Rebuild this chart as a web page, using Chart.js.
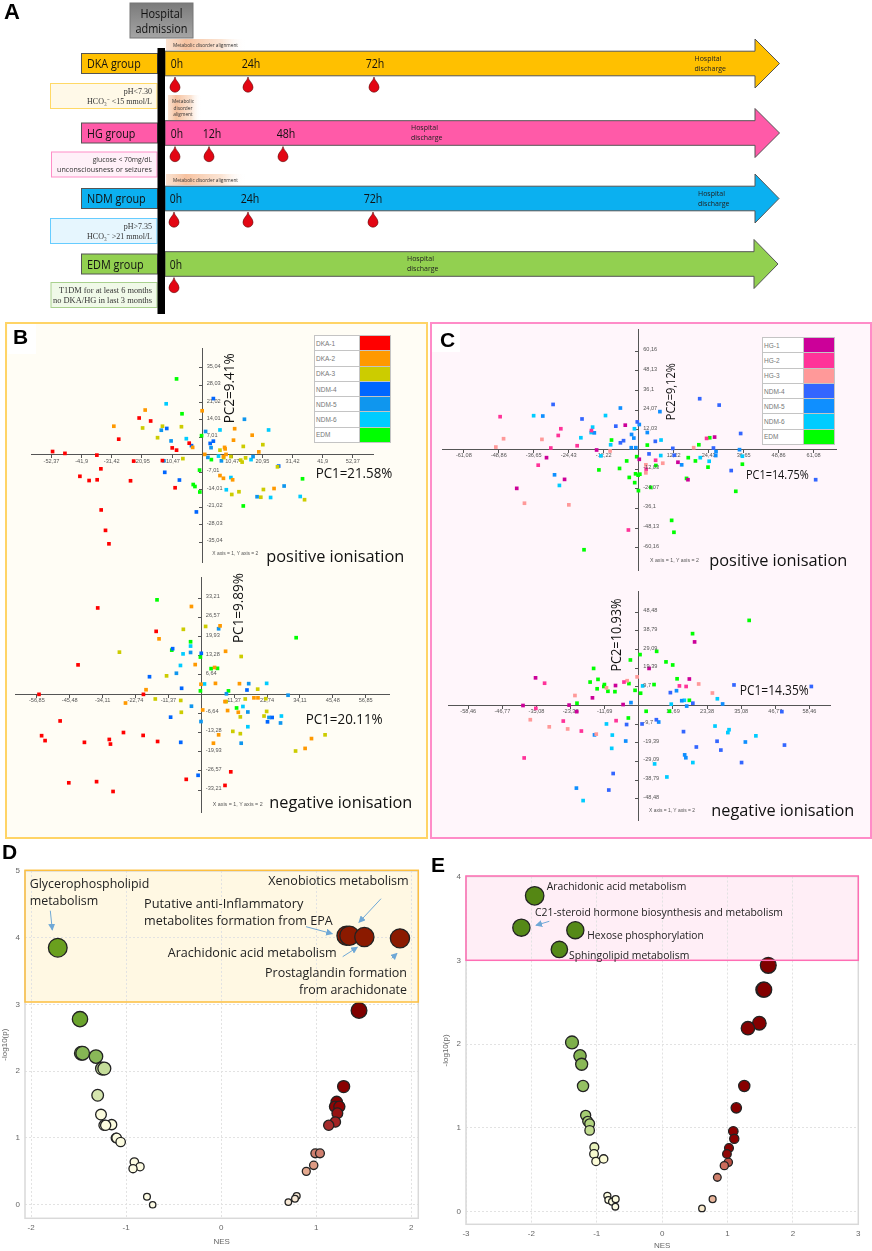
<!DOCTYPE html>
<html>
<head>
<meta charset="utf-8">
<title>Hospital groups, PCA and enrichment</title>
<script src="https://cdn.jsdelivr.net/npm/chart.js@4"></script>
<style>
  html, body { margin: 0; background: #fff; }
  #page { position: relative; width: 872px; height: 1251px; overflow: hidden; }
  #page canvas { position: absolute; }
  .panel, .hl, .letterbg { position: absolute; box-sizing: border-box; }
  #overlay { position: absolute; left: 0; top: 0; pointer-events: none; }
  table.key { position: absolute; border-collapse: collapse; font: 6.5px "Liberation Sans", sans-serif; color: #777; background: #fff; }
  table.key td { border: 1px solid #c4c4c4; padding: 0 0 0 1px; height: 14.3px; }
  table.key td.sw { width: 30px; padding: 0; }
</style>
</head>
<body>
<div id="page">
  <div class="panel" style="left:5px;top:322px;width:423px;height:517px;background:#fffdf5;border:2px solid #ffd466"></div>
  <div class="panel" style="left:430px;top:322px;width:442px;height:517px;background:#fff6fb;border:2px solid #ff8cc8"></div>
  <div class="letterbg" style="left:8px;top:324px;width:28px;height:30px;background:#fff"></div>
  <div class="letterbg" style="left:432px;top:324px;width:28px;height:28px;background:#fff"></div>
  <div class="hl" style="left:25px;top:870px;width:394px;height:132px;background:#fff8e3"></div>
  <div class="hl" style="left:466px;top:876px;width:393px;height:85px;background:#ffeef6"></div>

  <canvas id="bPos" width="350" height="222" style="left:27px;top:344px"></canvas>
  <canvas id="bNeg" width="382" height="243" style="left:11px;top:573px"></canvas>
  <canvas id="cPos" width="402" height="249" style="left:438px;top:325px"></canvas>
  <canvas id="cNeg" width="390" height="237" style="left:444px;top:587px"></canvas>
  <canvas id="dChart" width="430" height="387" style="left:0;top:860px"></canvas>
  <canvas id="eChart" width="431" height="385" style="left:441px;top:866px"></canvas>

  <table class="key" id="keyB" style="left:314px;top:335px;width:77px"></table>
  <table class="key" id="keyC" style="left:762px;top:337px;width:73px"></table>

  <svg id="overlay" width="872" height="1251" xmlns="http://www.w3.org/2000/svg"></svg>
</div>

<script>
// panel B, positive ionisation
const bPosDka1 = [[-52,1.35],[-47.7,0.6],[-36.6,-0.1],[-23.8,-2.5],[-13.8,-2.3],[-10.4,2.8],[-8.9,1.9],[-4.5,4.7],[-21.9,14.8],[-17.9,13.6],[-29,6.3],[-35.2,-5.6],[-42.5,-8.6],[-39.3,-10.3],[-36.5,-10],[-24.9,-10.4],[-9.4,-13.2],[-35.1,-22.1],[-33.6,-30.3],[-32.4,-35.7]];
const bPosDka2 = [[-19.8,18],[-30.7,11.5],[0,17.7],[11.3,10.5],[17.4,7.9],[10.9,5.9],[7.8,3],[8,2.4],[-3.3,3],[19.7,1.2],[8.3,0.2],[0.9,0.2],[6.2,-8.3],[7.4,-9.4],[10.6,-10],[25,-13.5],[7.4,-0.7]];
const bPosDka3 = [[-13.8,11.5],[-20.7,10.8],[-7.2,11.3],[-15.5,6.9],[6.2,1.9],[10,-0.7],[14.3,3.4],[21.1,4.1],[-6.7,-1.5],[7.5,-1.1],[13.4,-2.1],[13.9,-2.9],[15.1,-1.2],[26.2,-4.8],[21.3,-13.9],[12.8,-14.8],[10.3,-15.9],[20.4,-17],[35.6,-18]];
const bPosNdm4 = [[3.9,22.6],[-12.3,10.6],[3.9,5.5],[2.8,4.6],[-3.7,3.7],[-13,-7],[-7.9,-10.1],[26.6,-4.5],[-2,-22.9]];
const bPosNdm5 = [[14.7,14.3],[1.2,9.4],[-10.8,5.6],[3.1,2.9],[2,-1],[6.7,-2.4],[17.7,-0.7],[-14.2,9.9],[28.5,-12.5],[19.1,-16.8],[-13.3,-2.4]];
const bPosNdm6 = [[-12.5,20.5],[6.2,10],[23.1,10],[-5.5,6.5],[5.7,-0.5],[17,-1.9],[10,-9.1],[8.4,-14],[23.8,-17.1],[34.1,-16.7]];
const bPosEdm = [[-8.9,30.5],[-7,16.5],[-0.2,7.7],[3.2,-1.9],[-0.9,-6.1],[-3.1,-11.9],[-2.5,-12.7],[-0.8,-14.9],[34.9,-9.6],[14.3,-20.5]];
const bPosTicksX = [-52.37,-41.9,-31.42,-20.95,-10.47,10.47,20.95,31.42,41.9,52.37];
const bPosTicksY = [35.04,28.03,21.02,14.01,7.01,-7.01,-14.01,-21.02,-28.03,-35.04];

// panel B, negative ionisation
const bNegDka1 = [[-35.8,29.8],[-15.6,21.7],[-42.6,10.1],[-56.1,-0.1],[-20,-0.1],[-48.8,-9.3],[-55.2,-14.4],[-54,-16.1],[-40.4,-16.7],[-31.8,-15.7],[-31.4,-17.3],[-26.9,-13.3],[-20.1,-14.3],[-15.1,-16.4],[-45.8,-30.7],[-36.2,-30.3],[-30.5,-33.7],[-5.2,-29.5],[8.2,-31.6],[10.2,-26.9]];
const bNegDka2 = [[-3.4,30.3],[6.5,23.6],[-14.6,19.1],[8.4,14.8],[-2.1,10.2],[4.6,9.2],[-0.1,3.4],[4.9,3.7],[13.2,3.6],[-19.1,1.5],[-26.2,-3.1],[0.5,-5.5],[9.1,-5.7],[12.8,-6.3],[6,-14.1],[4.2,-17],[18.2,-1.3],[19.6,-1.3],[8.2,-2.6],[38.1,-15.4],[35.9,-18.8]];
const bNegDka3 = [[1.5,23.4],[-6.2,22.4],[-28.3,14.5],[13.8,13],[-12,6.3],[19.5,1.7],[-15.9,-1.7],[-7.1,-2.2],[15.2,-1.7],[22.3,-1.6],[8.6,-2.6],[-6.9,-6.3],[22.6,-6],[21.7,-7.6],[13.5,-7.9],[10.9,-12.9],[13.5,-13.7],[32.6,-19.7],[42.8,-14.1]];
const bNegNdm4 = [[-9.9,15.7],[0,14.1],[-17.9,6],[-6.8,2],[15.8,1.4],[-10.6,-8],[22.9,-9.6],[24.5,-8.1],[-7.1,-16.7],[-1.1,-28.1]];
const bNegNdm5 = [[6,22.6],[-3.7,14.4],[-8.6,7.2],[16.4,3.6],[8.7,0.1],[-3.4,-4.2],[16.1,-6.2],[-0.1,-9.5],[23.4,-8.1],[27.4,-10],[13.8,-17],[30,-0.4]];
const bNegNdm6 = [[-3.7,16.6],[-6.3,13.9],[-7.2,9.9],[1.1,3.5],[22.6,3.7],[14.4,-4.3],[27.7,-7.6],[16.1,-11.3]];
const bNegEdm = [[-15.3,32.6],[-3.7,18.1],[-10.2,15.2],[-0.3,12.8],[3.4,8.8],[5.6,8.9],[-0.3,1.1],[9.4,1.1],[12.2,-4.8],[32.8,19.5]];
const bNegTicksX = [-56.85,-45.48,-34.11,-22.74,-11.37,11.37,22.74,34.11,45.48,56.85];
const bNegTicksY = [33.21,26.57,19.93,13.28,6.64,-6.64,-13.28,-19.93,-26.57,-33.21];

// panel C, positive ionisation
const cPosHg1 = [[-4.7,14.9],[26.5,7.6],[-14.7,-0.3],[-32.2,-5],[0.2,-6],[-25.9,-18.3],[-42.6,-23.8],[13.7,-7.8],[17.2,-18.5]];
const cPosHg2 = [[-48.4,20.1],[-27.2,12.7],[-28.1,8.6],[-21.5,2.3],[-30.7,0.9],[-16.5,11.6],[-35.1,-9.6],[23.7,6.8],[2.6,-12],[5.9,-6.6],[-3.6,-49.3]];
const cPosHg3 = [[-47.2,6.6],[-49.9,1.5],[-33.8,6.2],[-10,-0.9],[19.2,1.1],[8.4,-8.4],[2.5,-9.4],[2.5,-14.3],[-39.9,-32.9],[-24.4,-33.9]];
const cPosNdm4 = [[-29.9,27.6],[-19.8,18.7],[-8,14.3],[-0.5,16.9],[21.3,31.1],[28.1,27.2],[35.6,9.8],[5.8,5],[-5.3,5.4],[-6.4,4.1],[11.9,0.7],[12.4,-3.5],[3.6,-2.7],[26.1,0.9],[32.3,-12.9],[61.8,-18.5]];
const cPosNdm5 = [[-33.5,20.5],[-6.4,25.4],[7.4,23.2],[0.2,15.3],[3,10.4],[-2.5,9.2],[-1.7,7],[-2.6,1.1],[-1,1.1],[-15.5,10.2],[15,-9.4],[27,-1.3],[26.9,-3.7],[35.2,-0.1],[-29.4,-15.5]];
const cPosNdm6 = [[-36.7,20.7],[-11.6,20.8],[-16.1,13.7],[-16.6,10.4],[-1.5,12.7],[-20.2,7.2],[-9.8,2.9],[7.8,5.8],[-13.2,-3.9],[7.7,-3.7],[21.5,-5],[24.6,-7.2],[36.2,-4.1],[-27.7,-22]];
const cPosEdm = [[-9.5,5.8],[3,2.7],[21,2.9],[24.8,7.2],[-0.7,-4.4],[-4.2,-7],[17.3,-5],[19.8,-7],[24.2,-10.8],[36.2,-9],[-13.9,-12.5],[-6.7,-11.6],[6,-9.8],[-1.1,-14.9],[0.4,-15.1],[-0.2,-15.7],[-3.3,-17.1],[-1.4,-20.3],[4.2,-23.2],[-0.1,-25.2],[16.7,-17.7],[33.9,-25.6],[11.5,-43.4],[12.3,-50.7],[-19.1,-61.4]];
const cPosTicksX = [-61.08,-48.86,-36.65,-24.43,-12.22,12.22,24.43,36.65,48.86,61.08];
const cPosTicksY = [60.16,48.13,36.1,24.07,12.03,-12.03,-24.07,-36.1,-48.13,-60.16];

// panel C, negative ionisation
const cNegHg1 = [[-35.4,14.4],[-8,10.4],[3.5,19.3],[19.1,33.1],[17.3,13.8],[-15.9,4],[-39.7,0],[-23.9,0.2],[-5.4,0.5],[-21.3,-3.2]];
const cNegHg2 = [[-32.3,11.6],[-5.1,12.2],[13.9,10.2],[16.2,9.9],[-35.3,-1.5],[-25.9,-8.1],[-19.7,-13.3],[-7.8,-7.9],[-39.3,-27.3]];
const cNegHg3 = [[-0.6,14.9],[-4,12.9],[-11.1,9.2],[-21.9,5.2],[20.5,11.2],[25.2,6.5],[-37.2,-7.4],[-30.7,-11.1],[-24.4,-12.2],[-14.6,-14.9]];
const cNegNdm4 = [[32.6,10.7],[10.8,6.7],[59.1,9.9],[18.5,1.2],[6,-7.4],[1.1,-9.6],[-4.2,-9.9],[15.3,-13.6],[19.7,-21.6],[26.8,-18.6],[28.1,-23.2],[35.2,-29.7],[49,-3.2],[49.9,-20.6],[-8.8,-35.4],[-10.3,-44]];
const cNegNdm5 = [[12.9,7.7],[14.7,2.5],[16.4,-0.3],[-2.7,1.5],[28.7,0.8],[6.8,-8.6],[-15.2,-15.3],[-4.5,-18.5],[15.7,-25.7],[16.1,-27.2],[36.5,-19],[-21.4,-43]];
const cNegNdm6 = [[1.3,10.2],[11.1,0.7],[15.6,2.7],[26.9,3.5],[-11.1,-9.6],[-9.1,-15.4],[-9.3,-22.3],[26.1,-10.7],[30.9,-12.6],[30.5,-14.1],[40.1,-15.8],[18.5,-29.7],[5.4,-30.4],[9.6,-37.2],[-19.1,-49.5]];
const cNegEdm = [[37.8,44.3],[18.4,37.4],[6.1,28.2],[0.4,26.5],[-2.9,23.7],[9.3,22.7],[11.6,21.1],[-15.5,19.3],[13.1,13.9],[-16.7,12.2],[-14,13.6],[5.2,10.9],[-3.4,11.4],[-11.8,10.9],[-12,9.9],[-14.3,8.7],[-10.6,7.4],[-8.2,7.2],[-1.3,7.9],[0.6,6.4],[17.3,2.7],[-21.2,1.2],[2.5,-3],[10.5,-3],[-3.6,-6.5]];
const cNegTicksX = [-58.46,-46.77,-35.08,-23.38,-11.69,11.69,23.38,35.08,46.77,58.46];
const cNegTicksY = [48.48,38.79,29.09,19.39,9.7,-9.7,-19.39,-29.09,-38.79,-48.48];

// panel D, NES against -log10(p)
const dDown = [[-1.72,3.85],[-1.486,2.78],[-1.472,2.27],[-1.458,2.27],[-1.318,2.22],[-1.254,2.04],[-1.23,2.04],[-1.3,1.64],[-1.265,1.35],[-1.233,1.19],[-1.153,1.2],[-1.216,1.19],[-1.107,1],[-1.1,1],[-1.058,0.94],[-0.914,0.64],[-0.854,0.57],[-0.928,0.54],[-0.781,0.12],[-0.721,0]];
const dUp = [[1.32,4.03],[1.35,4.03],[1.507,4.01],[1.882,3.99],[1.451,2.91],[1.289,1.77],[1.216,1.54],[1.198,1.47],[1.244,1.47],[1.223,1.37],[1.202,1.24],[1.132,1.19],[0.991,0.77],[1.04,0.77],[0.974,0.59],[0.896,0.5],[0.795,0.13],[0.777,0.09],[0.707,0.04]];
const dTicksX = [-2,-1,0,1,2];
const dTicksY = [0,1,2,3,4,5];

// panel E, NES against -log10(p)
const eDown = [[-1.95,3.77],[-2.153,3.39],[-1.328,3.36],[-1.572,3.13],[-1.379,2.02],[-1.256,1.86],[-1.231,1.76],[-1.21,1.5],[-1.17,1.15],[-1.139,1.08],[-1.109,1.05],[-1.109,0.97],[-1.037,0.77],[-1.042,0.69],[-1.012,0.6],[-0.895,0.63],[-0.838,0.19],[-0.823,0.14],[-0.767,0.12],[-0.711,0.15],[-0.716,0.06]];
const eUp = [[1.623,2.94],[1.547,2.65],[1.562,2.65],[1.486,2.25],[1.312,2.19],[1.256,1.5],[1.134,1.24],[1.088,0.96],[1.103,0.87],[1.022,0.76],[1.012,0.59],[0.991,0.69],[0.951,0.55],[0.844,0.41],[0.772,0.15],[0.609,0.04]];
const eTicksX = [-3,-2,-1,0,1,2,3];
const eTicksY = [0,1,2,3,4];

const keyNamesB = ['DKA-1','DKA-2','DKA-3','NDM-4','NDM-5','NDM-6','EDM'];
const keyColorsB = ['#ff0000','#ff9900','#cccc00','#0066ff','#0f96ee','#00ccff','#00ff00'];
const keyNamesC = ['HG-1','HG-2','HG-3','NDM-4','NDM-5','NDM-6','EDM'];
const keyColorsC = ['#cc0099','#ff3399','#ff9999','#3366ff','#0f8fff','#00ccff','#00ff00'];

Chart.defaults.font.family = '"Liberation Sans", Arial, sans-serif';
Chart.defaults.animation = false;
Chart.defaults.responsive = false;
Chart.defaults.plugins.legend.display = false;
Chart.defaults.plugins.tooltip.enabled = false;

const comma = v => String(v).replace('.', ',');
const toXY = p => ({ x: p[0], y: p[1] });

// y labels sit to the right of the axis, chart.js can't mirror them at a centred position
const yLabelsRight = {
  id: 'yLabelsRight',
  afterDraw(chart) {
    const s = chart.scales.y, ctx = chart.ctx, x0 = chart.scales.x.getPixelForValue(0);
    ctx.save();
    ctx.font = '5.6px "Liberation Sans"';
    ctx.fillStyle = '#555';
    ctx.textBaseline = 'middle';
    s.ticks.forEach(t => ctx.fillText(comma(t.value), x0 + 4.5, s.getPixelForValue(t.value) - 1.5));
    ctx.restore();
  }
};

function pcaChart(id, groups, colors, ticksX, ticksY, xr, yr) {
  new Chart(document.getElementById(id), {
    type: 'scatter',
    data: {
      datasets: groups.map((g, i) => ({
        data: g.map(toXY),
        pointStyle: 'rect',
        pointRadius: 2.6,
        pointBorderWidth: 0,
        pointBackgroundColor: colors[i]
      }))
    },
    options: {
      layout: { padding: 0 },
      scales: {
        x: {
          type: 'linear', min: xr[0], max: xr[1], position: { y: 0 },
          afterBuildTicks: a => { a.ticks = ticksX.map(v => ({ value: v })); },
          border: { color: '#555', width: 1 },
          grid: { drawOnChartArea: false, tickLength: 3, color: '#555' },
          ticks: { autoSkip: false, maxRotation: 0, padding: 0, color: '#555', font: { size: 5.6 }, callback: v => comma(v) }
        },
        y: {
          type: 'linear', min: yr[0], max: yr[1], position: { x: 0 },
          afterBuildTicks: a => { a.ticks = ticksY.map(v => ({ value: v })); },
          border: { color: '#555', width: 1 },
          grid: { drawOnChartArea: false, tickLength: 3, color: '#555' },
          ticks: { display: false }
        }
      }
    },
    plugins: [yLabelsRight]
  });
}

pcaChart('bPos', [bPosDka1,bPosDka2,bPosDka3,bPosNdm4,bPosNdm5,bPosNdm6,bPosEdm], keyColorsB, bPosTicksX, bPosTicksY, [-59.5,59.4], [-43,42.9]);
pcaChart('bNeg', [bNegDka1,bNegDka2,bNegDka3,bNegNdm4,bNegNdm5,bNegNdm6,bNegEdm], keyColorsB, bNegTicksX, bNegTicksY, [-64.4,64.9], [-40.8,40.5]);
pcaChart('cPos', [cPosHg1,cPosHg2,cPosHg3,cPosNdm4,cPosNdm5,cPosNdm6,cPosEdm], keyColorsC, cPosTicksX, cPosTicksY, [-68.7,68.9], [-73.8,73.8]);
pcaChart('cNeg', [cNegHg1,cNegHg2,cNegHg3,cNegNdm4,cNegNdm5,cNegNdm6,cNegEdm], keyColorsC, cNegTicksX, cNegTicksY, [-65.4,65.5], [-59.6,59.6]);

// colour ramps by -log10(p)
function ramp(stops, y) {
  let i = 1;
  while (i < stops.length - 1 && y > stops[i][0]) i++;
  const a = stops[i - 1], b = stops[i];
  const t = Math.max(0, Math.min(1, (y - a[0]) / (b[0] - a[0])));
  const c = [1, 2, 3].map(k => Math.round(a[k] + (b[k] - a[k]) * t));
  return `rgb(${c})`;
}
const dDownRamp = [[0,253,252,230],[1.35,252,252,222],[1.64,213,229,174],[2.04,196,220,153],[2.2,138,185,90],[2.78,106,163,44],[3.85,106,160,30]];
const dUpRamp = [[0,247,232,213],[0.15,247,232,213],[0.5,228,169,143],[0.78,207,125,110],[1.2,165,42,42],[1.5,139,0,0],[2.9,128,0,0],[4,139,26,0]];
const eDownRamp = [[0,253,253,228],[0.65,252,252,215],[0.8,226,238,180],[1.1,167,207,116],[2,127,176,76],[3,85,139,26],[3.8,85,135,20]];
const eUpRamp = [[0,253,253,224],[0.15,232,181,155],[0.41,207,127,108],[0.55,205,108,92],[0.7,139,0,0],[3,128,0,0]];

const frame = {
  id: 'frame',
  beforeDatasetsDraw(chart) {
    const a = chart.chartArea, ctx = chart.ctx;
    ctx.save();
    ctx.strokeStyle = '#d9d9d9';
    ctx.lineWidth = 1.5;
    ctx.strokeRect(a.left, a.top, a.right - a.left, a.bottom - a.top);
    ctx.restore();
  }
};

function enrichChart(id, down, up, downRamp, upRamp, ticksX, ticksY, xr, yr, pad, yWidth, xHeight) {
  const ds = (pts, stops) => ({
    data: pts.map(toXY),
    pointRadius: c => 3.2 + 1.6 * c.raw.y,
    pointBackgroundColor: c => ramp(stops, c.raw.y),
    pointBorderColor: '#222',
    pointBorderWidth: 1.3
  });
  const axis = (txt, ticks, lim, fit) => ({
    type: 'linear', min: lim[0], max: lim[1],
    afterBuildTicks: a => { a.ticks = ticks.map(v => ({ value: v })); },
    afterFit: fit,
    border: { display: false, dash: [2, 2] },
    grid: { color: '#e2e2e2', drawTicks: false },
    ticks: { autoSkip: false, maxRotation: 0, padding: 5, color: '#666', font: { size: 8 } },
    title: { display: true, text: txt, color: '#666', font: { size: 8 }, padding: 0 }
  });
  new Chart(document.getElementById(id), {
    type: 'scatter',
    data: { datasets: [ds(down, downRamp), ds(up, upRamp)] },
    options: {
      layout: { padding: pad },
      clip: false,
      scales: {
        x: axis('NES', ticksX, xr, s => { s.height = xHeight; }),
        y: axis('-log10(p)', ticksY, yr, s => { s.width = yWidth; })
      }
    },
    plugins: [frame]
  });
}

enrichChart('dChart', dDown, dUp, dDownRamp, dUpRamp, dTicksX, dTicksY, [-2.065,2.075], [-0.203,5], { top: 9.3, right: 11.7, left: 0, bottom: 0 }, 25, 28.7);
enrichChart('eChart', eDown, eUp, eDownRamp, eUpRamp, eTicksX, eTicksY, [-3,3], [-0.15,4], { top: 9.7, right: 13.7, left: 0, bottom: 0 }, 25, 26.7);

// key tables
function fillKey(id, names, colors) {
  document.getElementById(id).innerHTML = names.map((n, i) =>
    `<tr><td>${n}</td><td class="sw" style="background:${colors[i]}"></td></tr>`).join('');
}
fillKey('keyB', keyNamesB, keyColorsB);
fillKey('keyC', keyNamesC, keyColorsC);

// panel A and the free text, drawn as svg on top
const svg = document.getElementById('overlay');
const SANS = '"Open Sans", sans-serif';
let out = `<defs>
  <linearGradient id="hgrey" x1="0" y1="0" x2="0" y2="1"><stop offset="0" stop-color="#7b7b7b"/><stop offset="1" stop-color="#a5a5a5"/></linearGradient>
  <linearGradient id="fade" x1="0" y1="0" x2="1" y2="0"><stop offset="0" stop-color="#f6c6a4" stop-opacity=".5"/><stop offset=".25" stop-color="#f5b78f" stop-opacity=".85"/><stop offset=".7" stop-color="#f8d3b8" stop-opacity=".6"/><stop offset="1" stop-color="#fff" stop-opacity="0"/></linearGradient>
  <marker id="tip" viewBox="0 0 8 8" refX="7" refY="4" markerWidth="7" markerHeight="7" orient="auto"><path d="M0 0L8 4L0 8z" fill="#6fa8d6"/></marker>
</defs>`;

function text(x, y, s, size, o = {}) {
  const fit = o.w ? ` textLength="${o.w}" lengthAdjust="spacingAndGlyphs"` : '';
  const rot = o.rot ? ` transform="rotate(${o.rot} ${x} ${y})"` : '';
  out += `<text x="${x}" y="${y}" font-size="${size}" font-family='${o.font || SANS}' fill="${o.color || '#111'}" text-anchor="${o.anchor || 'start'}" dominant-baseline="central"${o.bold ? ' font-weight="bold"' : ''}${fit}${rot}>${s}</text>`;
}
function rect(x, y, w, h, fill, stroke, sw = 1) {
  out += `<rect x="${x}" y="${y}" width="${w}" height="${h}" fill="${fill}" stroke="${stroke}" stroke-width="${sw}"/>`;
}
function drop(x, y) {
  out += `<path d="M${x} ${y}C${x + .6} ${y + 4} ${x + 5} ${y + 6} ${x + 5} ${y + 10.2}A5 5 0 1 1 ${x - 5} ${y + 10.2}C${x - 5} ${y + 6} ${x - .6} ${y + 4} ${x} ${y}Z" fill="#e30613" stroke="#5a0000" stroke-width=".6"/>`;
}
function groupRow(o) {
  const c = o.cy, hx = o.headX, tx = o.tipX;
  out += `<path d="M165 ${c - 12.3}H${hx}V${c - 24.5}L${tx} ${c}L${hx} ${c + 24.5}V${c + 12.3}H165Z" fill="${o.color}" stroke="#555" stroke-width="1"/>`;
  rect(81.5, c - 10, 76, 20, o.color, '#555', 1);
  text(87, c, o.name, 12.5, { w: o.nameW });
  o.times.forEach(t => text(t[0], c, t[1], 12.5, { anchor: 'middle', w: t[1].length > 2 ? 18.7 : 12.3 }));
  o.drops.forEach(x => drop(x, c + 13.5));
  text(o.dischargeX, c - 5.5, 'Hospital', 7, { color: '#222' });
  text(o.dischargeX, c + 4.5, 'discharge', 7, { color: '#222' });
}

rect(130, 3, 63, 35, 'url(#hgrey)', '#777', 1);
text(161.5, 13, 'Hospital', 12.5, { anchor: 'middle', color: '#111', w: 42 });
text(161.5, 28, 'admission', 12.5, { anchor: 'middle', color: '#111', w: 52 });

rect(166, 39, 80, 11, 'url(#fade)', 'none', 0);
text(173, 45, 'Metabolic disorder alignment', 4.8, { w: 65, color: '#333' });
rect(168, 95, 33, 25, 'url(#fade)', 'none', 0);
text(183, 101, 'Metabolic', 4.8, { anchor: 'middle', color: '#333' });
text(183, 107.5, 'disorder', 4.8, { anchor: 'middle', color: '#333' });
text(183, 114, 'aligment', 4.8, { anchor: 'middle', color: '#333' });
rect(166, 174, 80, 11, 'url(#fade)', 'none', 0);
text(173, 180, 'Metabolic disorder alignment', 4.8, { w: 65, color: '#333' });

groupRow({ cy: 63.5, color: '#ffc000', name: 'DKA group', nameW: 53.7, headX: 755, tipX: 779.5, dischargeX: 694.5, times: [[177,'0h'],[251,'24h'],[375,'72h']], drops: [175,248,374] });
groupRow({ cy: 133, color: '#ff5aa8', name: 'HG group', nameW: 48.3, headX: 755, tipX: 779.5, dischargeX: 411, times: [[177,'0h'],[212,'12h'],[286,'48h']], drops: [175,209,283] });
groupRow({ cy: 198.5, color: '#0bb0f0', name: 'NDM group', nameW: 58.7, headX: 755, tipX: 779, dischargeX: 698, times: [[176,'0h'],[250,'24h'],[373,'72h']], drops: [174,248,373] });
groupRow({ cy: 264, color: '#92d050', name: 'EDM group', nameW: 56.7, headX: 754, tipX: 778, dischargeX: 407, times: [[176,'0h']], drops: [174] });

rect(50.5, 83.5, 106.5, 25, '#fff9e8', '#ffd966');
text(152, 91, 'pH&lt;7.30', 8, { anchor: 'end', font: '"Liberation Serif", serif', color: '#333' });
text(152, 101, 'HCO₃⁻ &lt;15 mmol/L', 8, { anchor: 'end', font: '"Liberation Serif", serif', color: '#333' });
rect(51.5, 152, 105.5, 25, '#fff0f8', '#ff8ec7');
text(152, 159.5, 'glucose &lt; 70mg/dL', 6.8, { anchor: 'end', color: '#333' });
text(152, 169.5, 'unconsciousness or seizures', 6.8, { anchor: 'end', w: 95, color: '#333' });
rect(50.5, 218.5, 106.5, 25, '#e6f6fe', '#66ccff');
text(152, 226, 'pH&gt;7.35', 8, { anchor: 'end', font: '"Liberation Serif", serif', color: '#333' });
text(152, 236, 'HCO₃⁻ &gt;21 mmol/L', 8, { anchor: 'end', font: '"Liberation Serif", serif', color: '#333' });
rect(51, 282.5, 106, 25, '#f0f9e8', '#a9d18e');
text(152, 290, 'T1DM for at least 6 months', 8, { anchor: 'end', font: '"Liberation Serif", serif', w: 93, color: '#333' });
text(152, 300, 'no DKA/HG in last 3 months', 8, { anchor: 'end', font: '"Liberation Serif", serif', w: 99, color: '#333' });

rect(157.5, 48, 7.5, 266, '#000', 'none', 0);

// panel letters
const HEAD = '"Liberation Sans", sans-serif';
text(4, 11, 'A', 22, { font: HEAD, bold: true, color: '#000' });
text(13, 336, 'B', 21, { font: HEAD, bold: true, color: '#000' });
text(440, 339, 'C', 21, { font: HEAD, bold: true, color: '#000' });
text(2, 851, 'D', 21, { font: HEAD, bold: true, color: '#000' });
text(431, 864, 'E', 21, { font: HEAD, bold: true, color: '#000' });

// PCA labels
text(228.3, 388.3, 'PC2=9.41%', 15, { anchor: 'middle', rot: -90, w: 70 });
text(315.7, 472.3, 'PC1=21.58%', 15, { w: 76.7 });
text(266.3, 555, 'positive ionisation', 16.5, { w: 138 });
text(212.3, 553.3, 'X axis = 1, Y axis = 2', 5, { w: 46, font: HEAD, color: '#555' });
text(236.7, 608, 'PC1=9.89%', 15, { anchor: 'middle', rot: -90, w: 70 });
text(305.7, 718.3, 'PC1=20.11%', 15, { w: 77 });
text(269.3, 801, 'negative ionisation', 16.5, { w: 143 });
text(212.7, 803.7, 'X axis = 1, Y axis = 2', 5, { w: 50, font: HEAD, color: '#555' });
text(670, 391.7, 'PC2=9,12%', 13, { anchor: 'middle', rot: -90, w: 57 });
text(746, 474.3, 'PC1=14.75%', 13, { w: 62.7 });
text(709.3, 559.3, 'positive ionisation', 16.5, { w: 138 });
text(650, 560, 'X axis = 1, Y axis = 2', 5, { w: 49, font: HEAD, color: '#555' });
text(615.7, 635, 'PC2=10.93%', 14, { anchor: 'middle', rot: -90, w: 73 });
text(739.7, 689, 'PC1=14.35%', 14, { w: 69 });
text(711.3, 809.7, 'negative ionisation', 16.5, { w: 143 });
text(649, 810.3, 'X axis = 1, Y axis = 2', 5, { w: 46, font: HEAD, color: '#555' });

// highlight boxes, outlines go above the grid lines
rect(25, 870.3, 393.3, 131.7, 'none', '#fdbf3f', 1.5);
rect(466, 876, 392.3, 84.3, 'none', '#ff6eb4', 1.5);

// panel D labels
text(29.7, 883.3, 'Glycerophospholipid', 12.5, { w: 119.6, color: '#222' });
text(29.7, 900.7, 'metabolism', 12.5, { w: 68.6, color: '#222' });
text(268.3, 880.7, 'Xenobiotics metabolism', 12.5, { w: 140.4, color: '#222' });
text(144, 903.3, 'Putative anti-Inflammatory', 12.5, { w: 159.3, color: '#222' });
text(144, 920.3, 'metabolites formation from EPA', 12.5, { w: 188.7, color: '#222' });
text(167.7, 952.7, 'Arachidonic acid metabolism', 12.5, { w: 169, color: '#222' });
text(265, 972, 'Prostaglandin formation', 12.5, { w: 142, color: '#222' });
text(299, 989.3, 'from arachidonate', 12.5, { w: 108, color: '#222' });

// panel E labels
text(546.7, 886.3, 'Arachidonic acid metabolism', 10.5, { w: 139.6, color: '#222' });
text(535, 912, 'C21-steroid hormone biosynthesis and metabolism', 10.5, { w: 248, color: '#222' });
text(587.3, 935.3, 'Hexose phosphorylation', 10.5, { w: 116.4, color: '#222' });
text(569, 954.7, 'Sphingolipid metabolism', 10.5, { w: 120.3, color: '#222' });

[[50.3,910.7,52.3,930],[381,898.7,359,922.3],[306,926.7,332.3,933.7],[342.7,956.7,357.3,947.3],[391.7,958.3,397,953.3],[549.3,921.3,536,925.3]]
  .forEach(a => { out += `<line x1="${a[0]}" y1="${a[1]}" x2="${a[2]}" y2="${a[3]}" stroke="#6fa8d6" stroke-width="1" marker-end="url(#tip)"/>`; });

svg.innerHTML = out;
</script>
</body>
</html>
